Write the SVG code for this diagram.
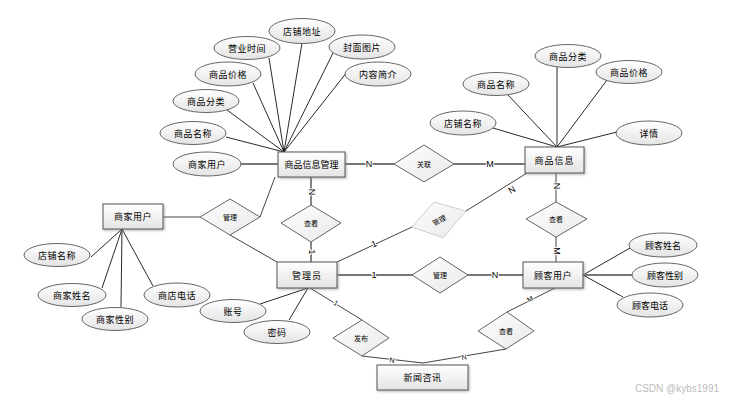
<svg xmlns="http://www.w3.org/2000/svg" width="744" height="401" viewBox="0 0 744 401">
<defs>
<linearGradient id="g" x1="0" y1="0" x2="0" y2="1">
<stop offset="0" stop-color="#ffffff"/>
<stop offset="1" stop-color="#e4e4e4"/>
</linearGradient>
<linearGradient id="g2" x1="0" y1="0" x2="1" y2="1">
<stop offset="0" stop-color="#ffffff"/>
<stop offset="1" stop-color="#e8e8e8"/>
</linearGradient>
<filter id="sh" x="-20%" y="-20%" width="140%" height="140%">
<feDropShadow dx="1.2" dy="1.2" stdDeviation="0.8" flood-color="#888" flood-opacity="0.6"/>
</filter>
</defs>
<style>
text{font-family:"Noto Sans CJK SC","Liberation Sans",sans-serif;fill:#000;text-anchor:middle;dominant-baseline:central}
.ent rect{fill:url(#g);stroke:#555;stroke-width:1;filter:url(#sh)}
.ent text{font-size:9px}
.att ellipse{fill:url(#g);stroke:#555;stroke-width:0.9}
.att text{font-size:9px;letter-spacing:0.5px}
.rel polygon{fill:url(#g2);stroke:#555;stroke-width:0.9}
.rel text{font-size:7px}
.al{stroke:#111;stroke-width:0.9;fill:none}
.rl{stroke:#777;stroke-width:1.8;fill:none}
.rl2{stroke:#444;stroke-width:1;fill:none}
.lb{font-size:9px;font-family:"Liberation Sans",sans-serif;paint-order:stroke;stroke:#fff;stroke-width:2px}
</style>
<g id="connectors">
<!-- 商品信息管理 attributes -->
<line class="al" x1="284" y1="152" x2="302" y2="43"/>
<line class="al" x1="284" y1="152" x2="269" y2="58"/>
<line class="al" x1="284" y1="152" x2="333" y2="53"/>
<line class="al" x1="284" y1="152" x2="253" y2="83"/>
<line class="al" x1="284" y1="152" x2="347" y2="72"/>
<line class="al" x1="284" y1="152" x2="227" y2="110"/>
<line class="al" x1="284" y1="152" x2="226" y2="137"/>
<line class="rl" x1="241" y1="164" x2="278" y2="164"/>
<!-- 商品信息 attributes -->
<line class="al" x1="557" y1="147" x2="557" y2="67"/>
<line class="al" x1="557" y1="147" x2="607" y2="80"/>
<line class="al" x1="557" y1="147" x2="508" y2="95"/>
<line class="al" x1="557" y1="147" x2="493" y2="128"/>
<line class="al" x1="557" y1="147" x2="617" y2="132"/>
<!-- 商家用户 attributes -->
<line class="al" x1="122" y1="229" x2="91" y2="257"/>
<line class="al" x1="122" y1="229" x2="102" y2="288"/>
<line class="al" x1="122" y1="229" x2="121" y2="307"/>
<line class="al" x1="122" y1="229" x2="153" y2="286"/>
<!-- 顾客用户 attributes -->
<line class="al" x1="583" y1="275" x2="630" y2="248"/>
<line class="rl" x1="583" y1="275" x2="632" y2="275"/>
<line class="al" x1="583" y1="275" x2="623" y2="297"/>
<!-- 管理员 attributes -->
<line class="al" x1="308" y1="288" x2="260" y2="304"/>
<line class="al" x1="308" y1="288" x2="289" y2="320"/>
<!-- relations -->
<line class="rl" x1="345" y1="164" x2="394" y2="164"/>
<line class="rl" x1="454" y1="164" x2="525" y2="164"/>
<line class="rl2" x1="163" y1="217" x2="200" y2="217"/>
<line class="rl2" x1="260" y1="217" x2="275" y2="177"/>
<line class="rl2" x1="230" y1="235" x2="277" y2="262"/>
<line class="rl" x1="311" y1="177" x2="311" y2="205"/>
<line class="rl" x1="311" y1="242" x2="311" y2="262"/>
<line class="rl2" x1="337" y1="262" x2="412" y2="227"/>
<line class="rl2" x1="466" y1="211" x2="527" y2="173"/>
<line class="rl" x1="337" y1="275" x2="412" y2="275"/>
<line class="rl" x1="468" y1="275" x2="523" y2="275"/>
<line class="rl2" x1="556" y1="173" x2="556" y2="202"/>
<line class="rl2" x1="556" y1="237" x2="556" y2="262"/>
<line class="rl2" x1="310" y1="288" x2="362" y2="320"/>
<line class="rl2" x1="362" y1="356" x2="423" y2="363"/>
<line class="rl2" x1="506" y1="349" x2="423" y2="363"/>
<line class="rl2" x1="555" y1="288" x2="507" y2="312"/>
<!-- cardinality labels -->
<text class="lb" x="369" y="164">N</text>
<text class="lb" x="490" y="164">M</text>
<text class="lb" transform="translate(312,192) rotate(90)">N</text>
<text class="lb" transform="translate(312,252) rotate(90)">1</text>
<text class="lb" transform="translate(374,244) rotate(-25)">1</text>
<text class="lb" transform="translate(512,190) rotate(-32)">N</text>
<text class="lb" x="374" y="275">1</text>
<text class="lb" x="495" y="275">N</text>
<text class="lb" transform="translate(557,186) rotate(90)">N</text>
<text class="lb" transform="translate(557,251) rotate(90)">M</text>
<text class="lb" style="font-size:7px" transform="translate(336,303) rotate(31)">1</text>
<text class="lb" style="font-size:7px" transform="translate(392,360) rotate(6)">N</text>
<text class="lb" style="font-size:7px" transform="translate(464,357) rotate(-10)">N</text>
<text class="lb" style="font-size:7px" transform="translate(530,299) rotate(-27)">M</text>
</g>
<!-- entities -->
<g id="e-spxxgl" class="ent"><rect x="278" y="152" width="67" height="25"/><text x="311.5" y="164.5">商品信息管理</text></g>
<g id="e-spxx" class="ent"><rect x="525" y="147" width="59" height="26"/><text x="554.5" y="160" style="letter-spacing:1px">商品信息</text></g>
<g id="e-sjyh" class="ent"><rect x="103" y="204" width="60" height="25"/><text x="133" y="216.5" style="letter-spacing:0.5px">商家用户</text></g>
<g id="e-gly" class="ent"><rect x="277" y="262" width="60" height="26"/><text x="307" y="275" style="letter-spacing:1px">管理员</text></g>
<g id="e-gkyh" class="ent"><rect x="523" y="262" width="60" height="26"/><text x="553" y="275" style="letter-spacing:0.5px">顾客用户</text></g>
<g id="e-xwzx" class="ent"><rect x="377" y="365" width="91" height="25"/><text x="422.5" y="377.5" style="letter-spacing:0.5px">新闻咨讯</text></g>
<!-- relationships -->
<g id="r-guanlian" class="rel"><polygon points="394,164 424,145 454,164 424,182"/><text x="424" y="164">关联</text></g>
<g id="r-guanli1" class="rel"><polygon points="200,217 230,199 260,217 230,235"/><text x="230" y="217">管理</text></g>
<g id="r-chakan1" class="rel"><polygon points="281,223 311,205 341,223 311,242"/><text x="311" y="223">查看</text></g>
<g id="r-guanli2" class="rel"><polygon points="434,202 466,211 443,238 412,227" style="stroke:#c8c8c8"/><text transform="translate(439,220) rotate(-28)">管理</text></g>
<g id="r-guanli3" class="rel"><polygon points="412,275 440,257 468,275 440,293"/><text x="440" y="275">管理</text></g>
<g id="r-chakan2" class="rel"><polygon points="526,219 556,202 587,219 556,237"/><text x="556" y="219">查看</text></g>
<g id="r-fabu" class="rel"><polygon points="333,338 362,320 389,338 362,356"/><text x="361" y="338">发布</text></g>
<g id="r-chakan3" class="rel"><polygon points="478,331 507,312 534,331 506,349"/><text x="506" y="331">查看</text></g>
<!-- attributes -->
<g id="a-dpdz" class="att"><ellipse cx="302" cy="31" rx="33" ry="12.5"/><text x="302" y="31">店铺地址</text></g>
<g id="a-yysj" class="att"><ellipse cx="247" cy="48" rx="33" ry="11.5"/><text x="247" y="48">营业时间</text></g>
<g id="a-fmtp" class="att"><ellipse cx="362" cy="47" rx="33" ry="12"/><text x="362" y="47">封面图片</text></g>
<g id="a-spjg1" class="att"><ellipse cx="228" cy="74" rx="33" ry="12"/><text x="228" y="74">商品价格</text></g>
<g id="a-nrjj" class="att"><ellipse cx="378" cy="74" rx="33" ry="12"/><text x="378" y="74">内容简介</text></g>
<g id="a-spfl1" class="att"><ellipse cx="206" cy="101" rx="33" ry="11.5"/><text x="206" y="101">商品分类</text></g>
<g id="a-spmc1" class="att"><ellipse cx="193" cy="133" rx="33" ry="11.5"/><text x="193" y="133">商品名称</text></g>
<g id="a-sjyh" class="att"><ellipse cx="207" cy="164" rx="34" ry="12"/><text x="207" y="164">商家用户</text></g>
<g id="a-spfl2" class="att"><ellipse cx="568" cy="56" rx="33" ry="11.5"/><text x="568" y="56">商品分类</text></g>
<g id="a-spjg2" class="att"><ellipse cx="629" cy="72" rx="33" ry="11.5"/><text x="629" y="72">商品价格</text></g>
<g id="a-spmc2" class="att"><ellipse cx="496" cy="84" rx="33" ry="11.5"/><text x="496" y="84">商品名称</text></g>
<g id="a-dpmc2" class="att"><ellipse cx="463" cy="123" rx="33" ry="12"/><text x="463" y="123">店铺名称</text></g>
<g id="a-xq" class="att"><ellipse cx="649" cy="133" rx="33" ry="12"/><text x="649" y="133">详情</text></g>
<g id="a-dpmc1" class="att"><ellipse cx="57" cy="255" rx="33" ry="11.5"/><text x="57" y="255">店铺名称</text></g>
<g id="a-sjxm" class="att"><ellipse cx="72" cy="295" rx="34" ry="11.5"/><text x="72" y="295">商家姓名</text></g>
<g id="a-sjxb" class="att"><ellipse cx="115" cy="319" rx="33" ry="11.5"/><text x="115" y="319">商家性别</text></g>
<g id="a-sddh" class="att"><ellipse cx="177" cy="295" rx="33" ry="12"/><text x="177" y="295">商店电话</text></g>
<g id="a-gkxm" class="att"><ellipse cx="663" cy="245" rx="34" ry="12"/><text x="663" y="245" style="letter-spacing:0">顾客姓名</text></g>
<g id="a-gkxb" class="att"><ellipse cx="665" cy="275" rx="33" ry="12"/><text x="665" y="275" style="letter-spacing:0">顾客性别</text></g>
<g id="a-gkdh" class="att"><ellipse cx="650" cy="305" rx="33" ry="12"/><text x="650" y="305" style="letter-spacing:0">顾客电话</text></g>
<g id="a-zh" class="att"><ellipse cx="233" cy="311" rx="33" ry="11.5"/><text x="233" y="311">账号</text></g>
<g id="a-mm" class="att"><ellipse cx="277" cy="332" rx="33" ry="11.5"/><text x="277" y="332">密码</text></g>
<text x="677" y="388" style="font-size:10px;fill:#bbb;font-family:'Liberation Sans',sans-serif">CSDN @kybs1991</text>
</svg>
